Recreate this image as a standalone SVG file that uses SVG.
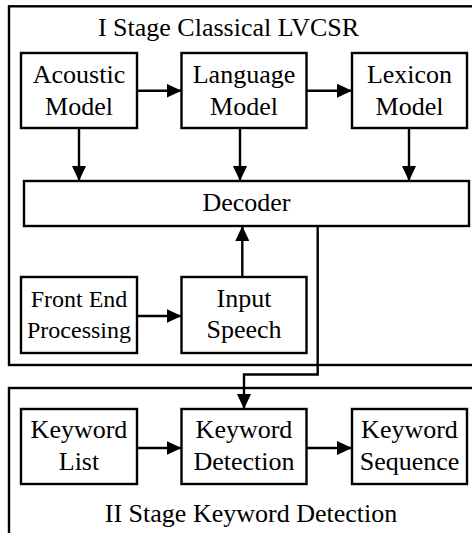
<svg xmlns="http://www.w3.org/2000/svg" width="472" height="533" viewBox="0 0 472 533">
  <defs>
    <style>
      .frame { fill: none; stroke: #000; stroke-width: 2.4; }
      .box { fill: #fff; stroke: #000; stroke-width: 2.4; }
      .t { font-family: "Liberation Serif", "Times New Roman", serif; font-size: 26px; fill: #000; text-anchor: middle; }
      .ts { font-family: "Liberation Serif", "Times New Roman", serif; font-size: 24px; fill: #000; text-anchor: middle; }
      .conn { fill: none; stroke: #000; stroke-width: 2.4; }
    </style>
    <marker id="arr" viewBox="0 0 15 14" refX="15" refY="7" markerWidth="15" markerHeight="14" markerUnits="userSpaceOnUse" orient="auto">
      <path d="M0,0 L15,7 L0,14 Z" fill="#000"/>
    </marker>
  </defs>

  <g id="stage1">
    <rect class="frame" x="9" y="6.3" width="480" height="358.7"/>
    <text class="t" x="228.5" y="35.5">I Stage Classical LVCSR</text>
  </g>
  <g id="stage2">
    <rect class="frame" x="9" y="388" width="480" height="160"/>
    <text class="t" x="251" y="521.5">II Stage Keyword Detection</text>
  </g>

  <g id="acoustic">
    <rect class="box" x="21" y="53" width="116" height="75"/>
    <text class="t" x="79" y="83">Acoustic</text>
    <text class="t" x="79" y="115">Model</text>
  </g>
  <g id="language">
    <rect class="box" x="181.5" y="53" width="125" height="75"/>
    <text class="t" x="244" y="83">Language</text>
    <text class="t" x="244" y="115">Model</text>
  </g>
  <g id="lexicon">
    <rect class="box" x="352" y="53" width="115" height="75"/>
    <text class="t" x="409.5" y="83">Lexicon</text>
    <text class="t" x="409.5" y="115">Model</text>
  </g>
  <g id="decoder">
    <rect class="box" x="24" y="181" width="445" height="45"/>
    <text class="t" x="246.5" y="211">Decoder</text>
  </g>
  <g id="frontend">
    <rect class="box" x="21" y="277" width="116" height="76"/>
    <text class="ts" x="79" y="307">Front End</text>
    <text class="ts" x="79" y="337.5">Processing</text>
  </g>
  <g id="input">
    <rect class="box" x="181.5" y="277" width="125" height="76"/>
    <text class="t" x="244" y="307">Input</text>
    <text class="t" x="244" y="338">Speech</text>
  </g>
  <g id="kwlist">
    <rect class="box" x="21" y="409" width="116" height="75"/>
    <text class="t" x="79" y="438">Keyword</text>
    <text class="t" x="79" y="470">List</text>
  </g>
  <g id="kwdet">
    <rect class="box" x="181.5" y="409" width="125" height="75"/>
    <text class="t" x="244" y="438">Keyword</text>
    <text class="t" x="244" y="470">Detection</text>
  </g>
  <g id="kwseq">
    <rect class="box" x="352" y="409" width="115" height="75"/>
    <text class="t" x="409.5" y="438">Keyword</text>
    <text class="t" x="409.5" y="469.5">Sequence</text>
  </g>

  <g id="connectors">
    <path class="conn" d="M137,90.7 H181.5" marker-end="url(#arr)"/>
    <path class="conn" d="M306.5,90.7 H352" marker-end="url(#arr)"/>
    <path class="conn" d="M79,128 V181" marker-end="url(#arr)"/>
    <path class="conn" d="M240,128 V181" marker-end="url(#arr)"/>
    <path class="conn" d="M409,128 V181" marker-end="url(#arr)"/>
    <path class="conn" d="M242.3,277 V226" marker-end="url(#arr)"/>
    <path class="conn" d="M137,316 H181.5" marker-end="url(#arr)"/>
    <path class="conn" d="M317.7,226 V374.5 H244 V409" marker-end="url(#arr)"/>
    <path class="conn" d="M137,448 H181.5" marker-end="url(#arr)"/>
    <path class="conn" d="M306.5,448 H352" marker-end="url(#arr)"/>
  </g>
</svg>
